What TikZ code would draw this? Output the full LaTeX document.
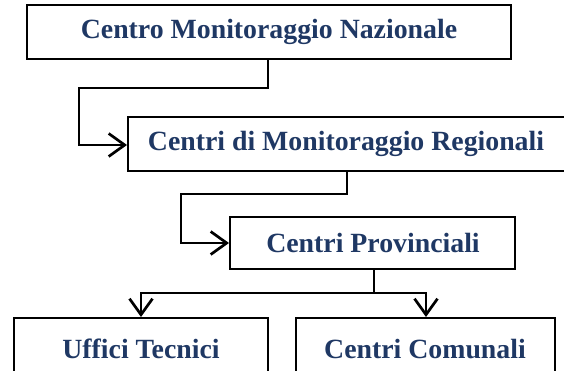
\documentclass[tikz,border=0pt]{standalone}
\usepackage{fontspec}
\setmainfont{Liberation Serif}
\usetikzlibrary{arrows.meta}
\definecolor{txtblue}{HTML}{1F3864}
\begin{document}
\begin{tikzpicture}[x=1pt,y=-1pt,
  box/.style={draw=black,line width=2.2pt,fill=white},
  lbl/.style={text=txtblue,font=\fontsize{27.8}{30}\selectfont\bfseries,inner sep=0pt},
  conn/.style={draw=black,line width=2.7pt,line join=miter},
  arr/.style={conn,-{Straight Barb[length=16pt,width=23pt]}}]
\useasboundingbox (0,0) rectangle (564,370);
\clip (0,0) rectangle (564,370);
% boxes
\draw[box] (27,5) rectangle (511,59);
\node[lbl] (n1) at (269,32) {Centro Monitoraggio Nazionale};
\draw[box] (128,117) rectangle (570,171);
\node[lbl] (n2) at (346,144) {Centri di Monitoraggio Regionali};
\draw[box] (230,217) rectangle (515,269);
\node[lbl] (n3) at (373,243) {Centri Provinciali};
\draw[box] (14,318) rectangle (268,390);
\node[lbl] (n4) at (141,349) {Uffici Tecnici};
\draw[box] (296,318) rectangle (555,390);
\node[lbl] (n5) at (425,349) {Centri Comunali};
% connectors
\coordinate (c1) at (268,59);
\coordinate (e2) at (127,145);
\draw[arr] (c1) -- (268,88) -- (79,88) -- (79,145) -- (e2);
\coordinate (c2) at (347,171);
\coordinate (e3) at (229,243);
\draw[arr] (c2) -- (347,194) -- (181,194) -- (181,243) -- (e3);
\coordinate (c3) at (374,269);
\coordinate (e4) at (141,317);
\coordinate (e5) at (426,317);
\draw[conn] (c3) -- (374,293);
\draw[arr] (374,293) -- (141,293) -- (e4);
\draw[arr] (374,293) -- (426,293) -- (e5);
\end{tikzpicture}
\end{document}
